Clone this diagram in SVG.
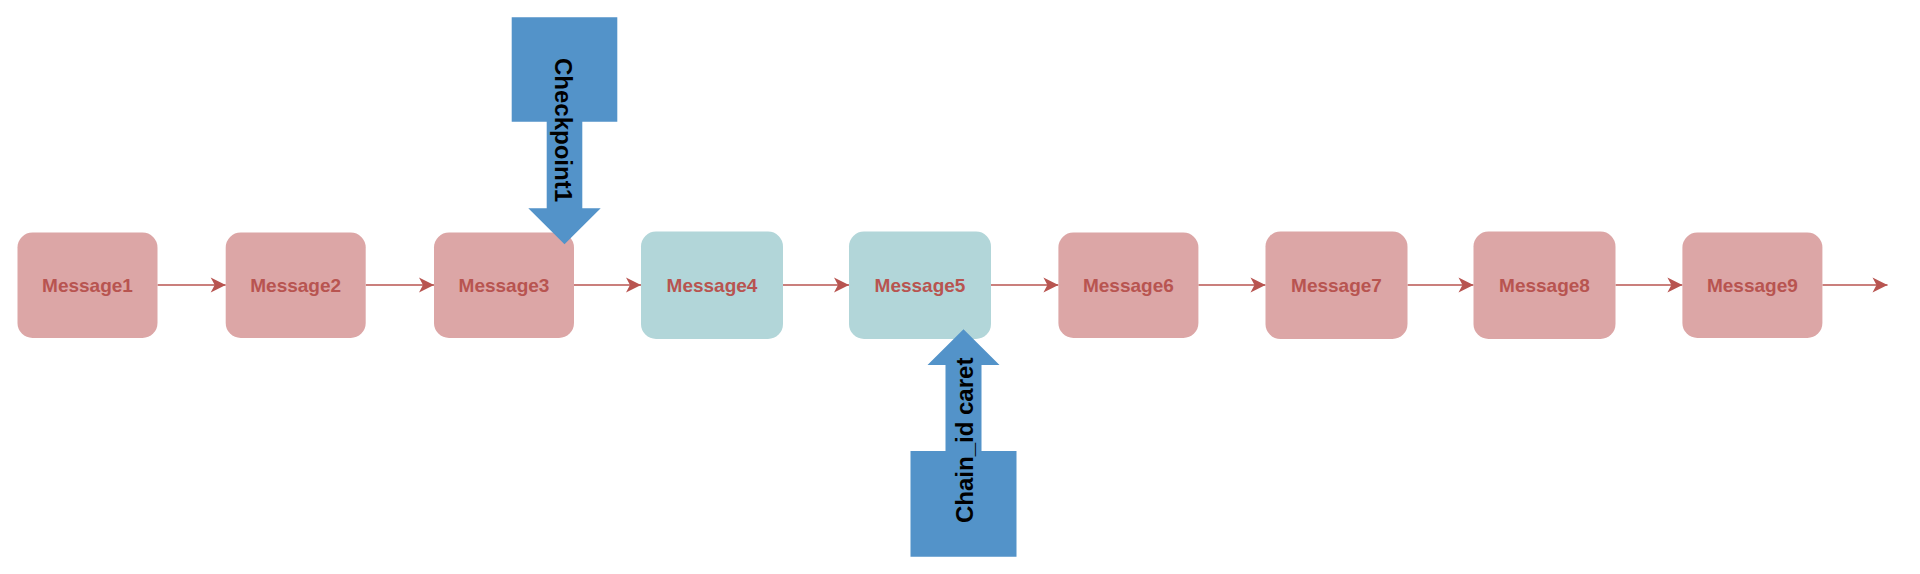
<svg xmlns="http://www.w3.org/2000/svg" width="1920" height="574" viewBox="0 0 1920 574">
  <style>
    .red { fill: #dca6a6; }
    .teal { fill: #b2d6d9; }
    .lbl { font-family: "Liberation Sans", Arial, sans-serif; font-weight: bold; font-size: 19px; fill: #b85450; text-anchor: middle; }
    .conn { stroke: #b85450; stroke-width: 1.6; fill: none; marker-end: url(#arr); }
    .blue { fill: #5393c9; }
    .albl { font-family: "Liberation Sans", Arial, sans-serif; font-weight: bold; font-size: 24px; fill: #000000; text-anchor: middle; }
  </style>
  <defs>
    <marker id="arr" markerUnits="userSpaceOnUse" markerWidth="16" markerHeight="16" viewBox="0 0 16 16" refX="15.5" refY="8" orient="auto">
      <path d="M0.5,0.5 L15.5,8 L0.5,15.5 L4.5,8 Z" fill="#b85450"/>
    </marker>
  </defs>
  <rect width="1920" height="574" fill="#ffffff"/>

  <g id="connectors">
    <line class="conn" x1="157.5" y1="285" x2="225.7" y2="285"/>
    <line class="conn" x1="365.7" y1="285" x2="434" y2="285"/>
    <line class="conn" x1="574" y1="285" x2="641" y2="285"/>
    <line class="conn" x1="783" y1="285" x2="849" y2="285"/>
    <line class="conn" x1="991" y1="285" x2="1058.4" y2="285"/>
    <line class="conn" x1="1198.4" y1="285" x2="1265.5" y2="285"/>
    <line class="conn" x1="1407.5" y1="285" x2="1473.5" y2="285"/>
    <line class="conn" x1="1615.5" y1="285" x2="1682.4" y2="285"/>
    <line class="conn" x1="1822.4" y1="285" x2="1887.5" y2="285"/>
  </g>

  <g id="message1">
    <rect class="red" x="17.5" y="232.5" width="140" height="105.5" rx="15"/>
    <text class="lbl" x="87.5" y="292">Message1</text>
  </g>
  <g id="message2">
    <rect class="red" x="225.7" y="232.5" width="140" height="105.5" rx="15"/>
    <text class="lbl" x="295.7" y="292">Message2</text>
  </g>
  <g id="message3">
    <rect class="red" x="434" y="232.5" width="140" height="105.5" rx="15"/>
    <text class="lbl" x="504" y="292">Message3</text>
  </g>
  <g id="message4">
    <rect class="teal" x="641" y="231.5" width="142" height="107.5" rx="15"/>
    <text class="lbl" x="712" y="292">Message4</text>
  </g>
  <g id="message5">
    <rect class="teal" x="849" y="231.5" width="142" height="107.5" rx="15"/>
    <text class="lbl" x="920" y="292">Message5</text>
  </g>
  <g id="message6">
    <rect class="red" x="1058.4" y="232.5" width="140" height="105.5" rx="15"/>
    <text class="lbl" x="1128.4" y="292">Message6</text>
  </g>
  <g id="message7">
    <rect class="red" x="1265.5" y="231.5" width="142" height="107.5" rx="15"/>
    <text class="lbl" x="1336.5" y="292">Message7</text>
  </g>
  <g id="message8">
    <rect class="red" x="1473.5" y="231.5" width="142" height="107.5" rx="15"/>
    <text class="lbl" x="1544.5" y="292">Message8</text>
  </g>
  <g id="message9">
    <rect class="red" x="1682.4" y="232.5" width="140" height="105.5" rx="15"/>
    <text class="lbl" x="1752.4" y="292">Message9</text>
  </g>

  <g id="checkpoint1">
    <polygon class="blue" points="511.7,17.3 617.3,17.3 617.3,121.7 582.3,121.7 582.3,208.3 600.7,208.3 564.5,244.3 528.3,208.3 546.7,208.3 546.7,121.7 511.7,121.7"/>
    <text class="albl" transform="translate(554.5,130) rotate(90)" x="0" y="0">Checkpoint1</text>
  </g>

  <g id="chain-id-caret">
    <polygon class="blue" points="963.5,329.3 999.5,365 981.5,365 981.5,451 1016.5,451 1016.5,556.7 910.5,556.7 910.5,451 945.5,451 945.5,365 927.5,365"/>
    <text class="albl" transform="translate(972.5,440.3) rotate(-90)" x="0" y="0">Chain_id caret</text>
  </g>
</svg>
